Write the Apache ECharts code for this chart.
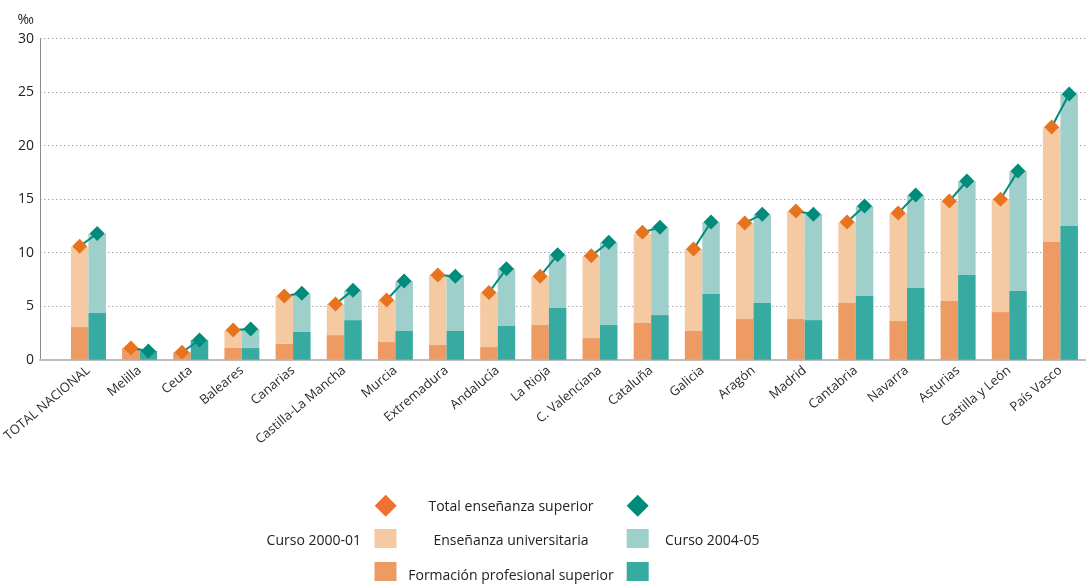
<!DOCTYPE html>
<html>
<head>
<meta charset="utf-8">
<script src="https://cdn.jsdelivr.net/npm/echarts@6/dist/echarts.min.js"></script>
<style>
html,body{margin:0;padding:0;background:#fff;}
#c{width:1086px;height:584px;}
</style>
</head>
<body>
<div id="c"></div>
<script>
const categories = ['TOTAL NACIONAL','Melilla','Ceuta','Baleares','Canarias','Castilla-La Mancha','Murcia','Extremadura','Andalucía','La Rioja','C. Valenciana','Cataluña','Galicia','Aragón','Madrid','Cantabria','Navarra','Asturias','Castilla y León','País Vasco'];
const fp2000  = [3.05, 1.1, 0.7, 1.1, 1.5, 2.3, 1.65, 1.37, 1.18, 3.24, 2.02, 3.43, 2.68, 3.8, 3.8, 5.3, 3.61, 5.48, 4.45, 11.0];
const uni2000 = [7.51, 0, 0, 1.67, 4.45, 2.9, 3.93, 6.54, 5.11, 4.55, 7.7, 8.31, 7.66, 8.97, 10.09, 7.57, 10.09, 9.35, 10.55, 10.74];
const tot2000 = [10.6, 1.1, 0.7, 2.77, 5.95, 5.2, 5.58, 7.91, 6.29, 7.79, 9.72, 11.9, 10.34, 12.77, 13.89, 12.87, 13.7, 14.83, 15.0, 21.74];
const fp2004  = [4.36, 0.81, 1.84, 1.09, 2.59, 3.7, 2.68, 2.68, 3.15, 4.83, 3.24, 4.17, 6.14, 5.3, 3.7, 5.95, 6.7, 7.91, 6.42, 12.49];
const uni2004 = [7.44, 0, 0, 1.78, 3.61, 2.8, 4.67, 5.23, 5.35, 4.98, 7.73, 8.2, 6.73, 8.3, 9.9, 8.41, 8.69, 8.79, 11.21, 12.34];
const tot2004 = [11.8, 0.81, 1.84, 2.87, 6.2, 6.5, 7.35, 7.8, 8.5, 9.81, 10.97, 12.37, 12.87, 13.6, 13.6, 14.36, 15.39, 16.7, 17.63, 24.83];
const yTicks = [0, 5, 10, 15, 20, 25, 30];

const C = {
  orangeLight: '#f5caa3', orangeDark: '#ee9b63', orangeDiamond: '#e8731f',
  tealLight: '#9fcfca', tealDark: '#37aaa1', tealDiamond: '#008b7b'
};
const FONT = '"Open Sans", "Noto Sans", sans-serif';
const BAR_W = 17.5;
const LEG_FONT = '14px ' + FONT;

const chart = echarts.init(document.getElementById('c'), null, {renderer: 'canvas'});

function diamond(cx, cy, r, fill) {
  return {type: 'polygon', shape: {points: [[cx, cy - r], [cx + r, cy], [cx, cy + r], [cx - r, cy]]}, style: {fill: fill}};
}

const lineData = categories.map((c, i) => [i, tot2000[i], tot2004[i]]);

const gridTop = 38.7, gridBottom = 584 - 359.7;

const option = {
  animation: false,
  textStyle: {fontFamily: FONT},
  grid: [
    {left: 40, right: 0, top: gridTop, bottom: gridBottom, containLabel: false},
    {left: 61, width: 1040, top: gridTop, bottom: gridBottom, containLabel: false}
  ],
  xAxis: [
    {type: 'category', gridIndex: 0, data: [''], axisLine: {show: true, lineStyle: {color: '#bdbdbd', width: 2}},
     axisTick: {show: false}, axisLabel: {show: false}, splitLine: {show: false}},
    {type: 'category', gridIndex: 1, data: categories, axisLine: {show: false}, axisTick: {show: false},
     axisLabel: {rotate: 40, margin: 9, fontSize: 13, color: '#2b2b2b', fontFamily: FONT, interval: 0}}
  ],
  yAxis: [
    {type: 'value', gridIndex: 0, min: yTicks[0], max: yTicks[yTicks.length - 1], interval: 5,
     axisLine: {show: true, lineStyle: {color: '#8c8c8c', width: 1}}, axisTick: {show: false},
     axisLabel: {fontSize: 14, color: '#222', margin: 6, fontFamily: FONT},
     splitLine: {show: true, lineStyle: {color: '#a8a8a8', type: [1.5, 2.5], width: 1}},
     name: '‰', nameLocation: 'end', nameGap: 12, nameTextStyle: {fontSize: 14, color: '#222', align: 'right', padding: [0, 6, 0, 0]}},
    {type: 'value', gridIndex: 1, min: yTicks[0], max: yTicks[yTicks.length - 1], interval: 5, show: false}
  ],
  series: [
    {type: 'bar', name: 'fp2000', xAxisIndex: 1, yAxisIndex: 1, stack: 'a', data: fp2000, barWidth: BAR_W, barGap: '0%', itemStyle: {color: C.orangeDark}},
    {type: 'bar', name: 'uni2000', xAxisIndex: 1, yAxisIndex: 1, stack: 'a', data: uni2000, barWidth: BAR_W, barGap: '0%', itemStyle: {color: C.orangeLight}},
    {type: 'bar', name: 'fp2004', xAxisIndex: 1, yAxisIndex: 1, stack: 'b', data: fp2004, barWidth: BAR_W, barGap: '0%', itemStyle: {color: C.tealDark}},
    {type: 'bar', name: 'uni2004', xAxisIndex: 1, yAxisIndex: 1, stack: 'b', data: uni2004, barWidth: BAR_W, barGap: '0%', itemStyle: {color: C.tealLight}},
    {type: 'custom', name: 'total', xAxisIndex: 1, yAxisIndex: 1, data: lineData, encode: {x: 0, y: [1, 2]}, z: 5,
     renderItem: function (params, api) {
       const i = api.value(0);
       const p0 = api.coord([i, api.value(1)]);
       const p1 = api.coord([i, api.value(2)]);
       const h = BAR_W / 2;
       const a = [p0[0] - h, p0[1]], b = [p1[0] + h, p1[1]];
       return {type: 'group', children: [
         {type: 'line', shape: {x1: a[0], y1: a[1], x2: b[0], y2: b[1]}, style: {stroke: C.tealDiamond, lineWidth: 2}},
         diamond(a[0], a[1], 7.5, C.orangeDiamond),
         diamond(b[0], b[1], 7.5, C.tealDiamond)
       ]};
     }}
  ],
  graphic: [
    diamond(385.7, 505.7, 11, '#f07030'),
    diamond(637.7, 505.7, 11, C.tealDiamond),
    {type: 'rect', shape: {x: 374.5, y: 529, width: 22, height: 19}, style: {fill: C.orangeLight}},
    {type: 'rect', shape: {x: 626.7, y: 529, width: 22, height: 19}, style: {fill: C.tealLight}},
    {type: 'rect', shape: {x: 374.5, y: 562, width: 22, height: 19}, style: {fill: C.orangeDark}},
    {type: 'rect', shape: {x: 626.7, y: 562, width: 22, height: 19}, style: {fill: C.tealDark}},
    {type: 'text', x: 511, y: 507, style: {text: 'Total enseñanza superior', font: LEG_FONT, fill: '#222', align: 'center', verticalAlign: 'middle'}},
    {type: 'text', x: 511, y: 541, style: {text: 'Enseñanza universitaria', font: LEG_FONT, fill: '#222', align: 'center', verticalAlign: 'middle'}},
    {type: 'text', x: 511, y: 576, style: {text: 'Formación profesional superior', font: LEG_FONT, fill: '#222', align: 'center', verticalAlign: 'middle'}},
    {type: 'text', x: 361, y: 541, style: {text: 'Curso 2000-01', font: LEG_FONT, fill: '#222', align: 'right', verticalAlign: 'middle'}},
    {type: 'text', x: 665, y: 541, style: {text: 'Curso 2004-05', font: LEG_FONT, fill: '#222', align: 'left', verticalAlign: 'middle'}}
  ]
};
chart.setOption(option);
</script>
</body>
</html>
